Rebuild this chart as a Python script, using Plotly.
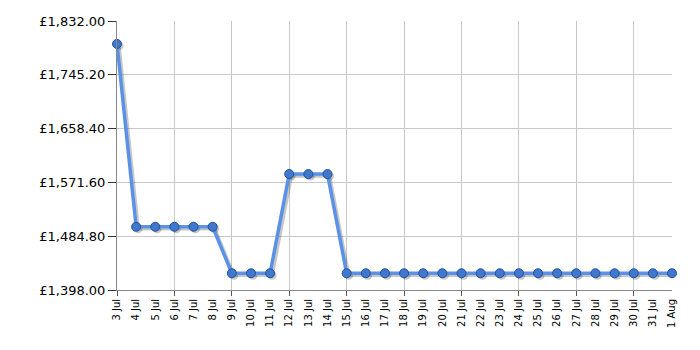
import plotly.graph_objects as go

dates = ["3 Jul", "4 Jul", "5 Jul", "6 Jul", "7 Jul", "8 Jul", "9 Jul", "10 Jul",
         "11 Jul", "12 Jul", "13 Jul", "14 Jul", "15 Jul", "16 Jul", "17 Jul",
         "18 Jul", "19 Jul", "20 Jul", "21 Jul", "22 Jul", "23 Jul", "24 Jul",
         "25 Jul", "26 Jul", "27 Jul", "28 Jul", "29 Jul", "30 Jul", "31 Jul", "1 Aug"]
prices = [1795.00, 1500.00, 1500.00, 1500.00, 1500.00, 1500.00, 1425.00, 1425.00,
          1425.00, 1585.00, 1585.00, 1585.00, 1425.00, 1425.00, 1425.00,
          1425.00, 1425.00, 1425.00, 1425.00, 1425.00, 1425.00, 1425.00,
          1425.00, 1425.00, 1425.00, 1425.00, 1425.00, 1425.00, 1425.00, 1425.00]
y_ticks = [1398.00, 1484.80, 1571.60, 1658.40, 1745.20, 1832.00]
y_labels = ["£{:,.2f}".format(v) for v in y_ticks]

idx = list(range(len(dates)))
grid_idx = idx[::3]

x_rng = [0, len(dates) - 1]
y_rng = [y_ticks[0], y_ticks[-1]]
plot_w, plot_h = 700 - 117 - 28, 350 - 21 - 60
dx = 2 * (x_rng[1] - x_rng[0]) / plot_w
dy = 2 * (y_rng[1] - y_rng[0]) / plot_h

fig = go.Figure()
# shadow on base (shifted, hidden) axes
fig.add_trace(go.Scatter(
    x=idx, y=prices, mode="lines+markers", xaxis="x", yaxis="y",
    line=dict(color="rgba(0,0,0,0.22)", width=3.5),
    marker=dict(size=9, color="rgba(0,0,0,0.22)"),
    hoverinfo="skip", cliponaxis=False, showlegend=False))
# main series on visible axes
fig.add_trace(go.Scatter(
    x=idx, y=prices, mode="lines+markers", xaxis="x2", yaxis="y2",
    line=dict(color="#5b91e6", width=3.5),
    marker=dict(size=9, color="#3f78cc", line=dict(color="#24509a", width=1)),
    cliponaxis=False, showlegend=False))
# anchor for date labels axis
fig.add_trace(go.Scatter(x=[0], y=[y_ticks[0]], xaxis="x3", yaxis="y2",
                         mode="markers", marker=dict(opacity=0), hoverinfo="skip",
                         showlegend=False))

fig.update_layout(
    width=700, height=350,
    margin=dict(l=117, r=28, t=21, b=60),
    paper_bgcolor="white", plot_bgcolor="white",
    font=dict(family="DejaVu Sans", color="#000000"),
    xaxis=dict(range=[x_rng[0] - dx, x_rng[1] - dx], visible=False),
    yaxis=dict(range=[y_rng[0] + dy, y_rng[1] + dy], visible=False),
    xaxis2=dict(
        overlaying="x", anchor="y2", side="bottom",
        range=x_rng, tickmode="array", tickvals=grid_idx,
        showticklabels=False, showgrid=True, gridcolor="#c8c8c8", gridwidth=1,
        ticks="outside", ticklen=5, tickcolor="#555555",
        showline=True, linecolor="#888888", linewidth=1, zeroline=False),
    xaxis3=dict(
        overlaying="x", anchor="y2", side="bottom",
        range=x_rng, tickmode="array", tickvals=idx, ticktext=dates,
        tickangle=-90, tickfont=dict(size=10), showgrid=False, ticks="",
        ticklabelstandoff=6, showline=False, zeroline=False),
    yaxis2=dict(
        overlaying="y", anchor="x2", side="left",
        range=y_rng, tickmode="array", tickvals=y_ticks, ticktext=y_labels,
        tickfont=dict(size=13),
        showgrid=True, gridcolor="#c8c8c8", gridwidth=1,
        ticks="outside", ticklen=8, tickcolor="#333333",
        showline=True, linecolor="#888888", linewidth=1, zeroline=False),
)

fig.write_html("out.html")
